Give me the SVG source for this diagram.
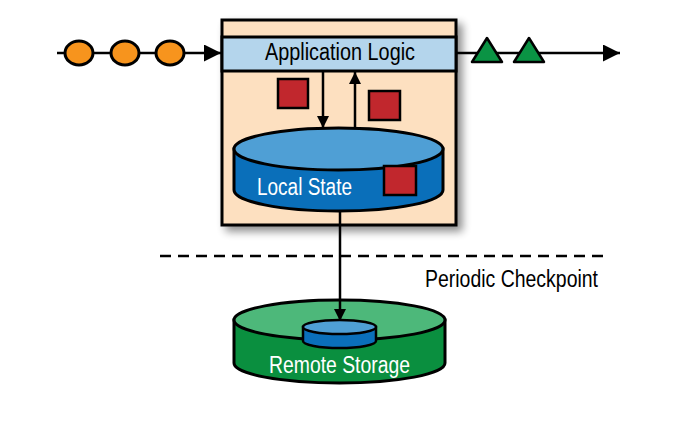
<svg xmlns="http://www.w3.org/2000/svg" width="682" height="433" viewBox="0 0 682 433">
  <style>
    .stroke { stroke: #000; stroke-width: 3; }
    .line { stroke: #000; stroke-width: 2.5; fill: none; }
    .red { fill: #c1272d; stroke: #000; stroke-width: 2.5; }
    .orange { fill: #f7941d; stroke: #000; stroke-width: 3; }
    .tri { fill: #0a9344; stroke: #000; stroke-width: 2.5; stroke-linejoin: round; }
    .label { font-family: "Liberation Sans Narrow", "Liberation Sans", sans-serif; font-size: 23px; }
  </style>
  <defs>
    <marker id="arrowBig" viewBox="0 0 10 10" refX="10" refY="5" markerWidth="17" markerHeight="17" markerUnits="userSpaceOnUse" orient="auto">
      <path d="M0,0 L10,5 L0,10 z" fill="#000"/>
    </marker>
    <marker id="arrowMid" viewBox="0 0 10 10" refX="10" refY="5" markerWidth="12" markerHeight="12" markerUnits="userSpaceOnUse" orient="auto">
      <path d="M0,0 L10,5 L0,10 z" fill="#000"/>
    </marker>
    <filter id="shadow" x="-10%" y="-10%" width="130%" height="130%">
      <feGaussianBlur in="SourceAlpha" stdDeviation="4"/>
      <feOffset dx="5" dy="5"/>
      <feComponentTransfer><feFuncA type="linear" slope="0.45"/></feComponentTransfer>
      <feMerge><feMergeNode/><feMergeNode in="SourceGraphic"/></feMerge>
    </filter>
  </defs>

  <rect width="682" height="433" fill="#fff"/>

  <!-- incoming events -->
  <g id="events-in">
    <ellipse class="orange" cx="79" cy="53" rx="14" ry="12"/>
    <ellipse class="orange" cx="125" cy="53" rx="14" ry="12"/>
    <ellipse class="orange" cx="170" cy="53" rx="14" ry="12"/>
  </g>

  <!-- outgoing results -->
  <g id="events-out">
    <polygon class="tri" points="472,62 487,38 502,62"/>
    <polygon class="tri" points="514,62 529,38 544,62"/>
  </g>

  <!-- application -->
  <g id="application">
    <rect x="222" y="20" width="234" height="205" fill="#fde0c0" class="stroke" filter="url(#shadow)"/>
    <rect x="222" y="37" width="234" height="34" fill="#b4d5ec" class="stroke"/>
    <text class="label" x="265" y="60" textLength="150" lengthAdjust="spacingAndGlyphs" fill="#000">Application Logic</text>
    <rect class="red" x="278" y="79" width="30" height="29"/>
    <rect class="red" x="369" y="91" width="31" height="29"/>
    <line class="line" x1="323" y1="71" x2="323" y2="128" marker-end="url(#arrowMid)"/>
    <line class="line" x1="355" y1="128" x2="355" y2="72" marker-end="url(#arrowMid)"/>
  </g>

  <!-- local state store -->
  <g id="local-state">
    <path d="M234,149 L234,190 A104.5,21 0 0 0 443,190 L443,149 Z" fill="#0a6fba" class="stroke"/>
    <ellipse cx="338.5" cy="149" rx="104.5" ry="21" fill="#4f9fd5" class="stroke"/>
    <text class="label" x="257" y="195" textLength="95" lengthAdjust="spacingAndGlyphs" fill="#fff">Local State</text>
    <rect class="red" x="384" y="166" width="32" height="29"/>
  </g>

  <text class="label" x="425" y="287" font-size="21" textLength="173" lengthAdjust="spacingAndGlyphs" fill="#000">Periodic Checkpoint</text>

  <!-- remote storage -->
  <g id="remote-storage">
    <path d="M234,320 L234,363 A105.5,20 0 0 0 445,363 L445,320 Z" fill="#0a8f3f" class="stroke"/>
    <ellipse cx="339.5" cy="320" rx="105.5" ry="20" fill="#4db87a" class="stroke"/>
    <path d="M303,327 L303,341 A36.5,7 0 0 0 376,341 L376,327 Z" fill="#0a6fba" stroke="#000" stroke-width="2.5"/>
    <ellipse cx="339.5" cy="327" rx="36.5" ry="7" fill="#4f9fd5" stroke="#000" stroke-width="2.5"/>
    <text class="label" x="269" y="373" font-size="22.5" textLength="141" lengthAdjust="spacingAndGlyphs" fill="#fff">Remote Storage</text>
  </g>

  <!-- connectors, split around the event shapes they pass through -->
  <g id="connectors">
    <line class="line" x1="57" y1="53" x2="66" y2="53"/>
    <line class="line" x1="92" y1="53" x2="112" y2="53"/>
    <line class="line" x1="138" y1="53" x2="157" y2="53"/>
    <line class="line" x1="183" y1="53" x2="221" y2="53" marker-end="url(#arrowBig)"/>
    <line class="line" x1="457" y1="53" x2="478" y2="53"/>
    <line class="line" x1="496" y1="53" x2="520" y2="53"/>
    <line class="line" x1="538" y1="53" x2="620" y2="53" marker-end="url(#arrowBig)"/>
    <line x1="160" y1="256" x2="606" y2="256" stroke="#000" stroke-width="2.5" stroke-dasharray="11,7"/>
    <line class="line" x1="340" y1="212" x2="340" y2="321" marker-end="url(#arrowMid)"/>
  </g>
</svg>
